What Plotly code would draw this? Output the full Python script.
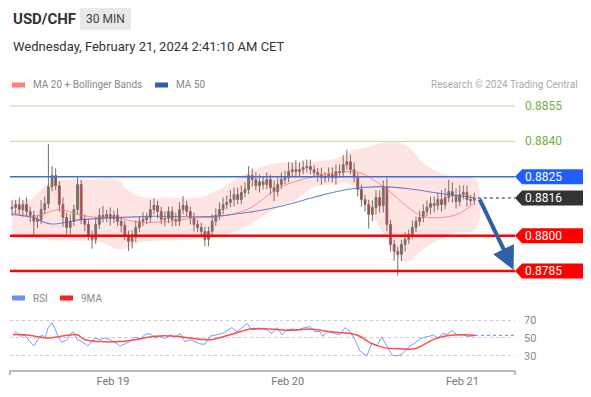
import plotly.graph_objects as go

W, H = 591, 397
OFF = 8  # page body margin offset
def px(x): return (x - OFF) / W
def py(y): return 1 - (y - OFF) / H

FONT = "Roboto, Arial, sans-serif"

# ---------------- data ----------------
pair = "USD/CHF"
timeframe = "30 MIN"
timestamp = "Wednesday, February 21, 2024 2:41:10 AM CET"
copyright_txt = "Research © 2024 Trading Central"

first_open = 0.88115
closes = [
    0.88120, 0.88132, 0.88111, 0.88132, 0.88103, 0.88086, 0.88061, 0.88069,
    0.88111, 0.88136, 0.88208, 0.88255, 0.88212, 0.88132, 0.88077, 0.88035,
    0.88061, 0.88111, 0.88217, 0.88069, 0.88048, 0.88001, 0.87985, 0.88048,
    0.88086, 0.88077, 0.88090, 0.88073, 0.88086, 0.88061, 0.88044, 0.88001,
    0.87976, 0.87993, 0.88035, 0.88061, 0.88069, 0.88077, 0.88111, 0.88128,
    0.88103, 0.88069, 0.88073, 0.88103, 0.88069, 0.88061, 0.88111, 0.88128,
    0.88103, 0.88077, 0.88048, 0.88035, 0.88018, 0.87985, 0.88018, 0.88061,
    0.88086, 0.88111, 0.88132, 0.88141, 0.88153, 0.88174, 0.88153, 0.88183,
    0.88196, 0.88255, 0.88238, 0.88212, 0.88229, 0.88217, 0.88238, 0.88204,
    0.88187, 0.88217, 0.88238, 0.88246, 0.88272, 0.88280, 0.88272, 0.88280,
    0.88288, 0.88293, 0.88280, 0.88267, 0.88259, 0.88246, 0.88250, 0.88259,
    0.88246, 0.88272, 0.88267, 0.88301, 0.88314, 0.88280, 0.88246, 0.88196,
    0.88153, 0.88132, 0.88090, 0.88120, 0.88162, 0.88128, 0.88204, 0.88048,
    0.87963, 0.87934, 0.87921, 0.87963, 0.87985, 0.88006, 0.88035, 0.88061,
    0.88077, 0.88103, 0.88120, 0.88136, 0.88128, 0.88153, 0.88132, 0.88162,
    0.88187, 0.88170, 0.88145, 0.88174, 0.88183, 0.88153, 0.88150, 0.88162,
]
# wick lengths in pips (0.0001)
wick_up = [
    3, 2, 3, 2, 3, 2, 2, 2, 4, 3, 18, 4, 3, 2, 3, 2,
    3, 2, 3, 2, 2, 2, 2, 3, 3, 4, 2, 3, 2, 3, 2, 2,
    2, 3, 3, 2, 3, 2, 4, 3, 2, 2, 3, 2, 2, 3, 3, 4,
    2, 2, 2, 2, 2, 2, 2, 3, 3, 3, 3, 3, 4, 3, 3, 3,
    3, 4, 3, 3, 3, 2, 3, 2, 3, 3, 3, 3, 4, 3, 4, 3,
    3, 3, 3, 2, 2, 3, 2, 3, 3, 3, 3, 4, 5, 3, 3, 2,
    2, 2, 2, 3, 3, 3, 3, 4, 2, 2, 2, 2, 3, 2, 3, 2,
    3, 3, 3, 3, 3, 3, 4, 4, 5, 4, 3, 4, 3, 3, 2, 2,
]
wick_dn = [
    3, 3, 2, 3, 2, 3, 6, 3, 2, 2, 2, 2, 2, 3, 4, 3,
    3, 2, 2, 2, 3, 2, 4, 2, 2, 2, 2, 3, 2, 2, 3, 2,
    4, 3, 2, 2, 2, 2, 2, 2, 3, 2, 3, 2, 3, 2, 2, 2,
    2, 3, 3, 2, 2, 3, 3, 2, 2, 2, 2, 2, 2, 3, 2, 2,
    2, 2, 3, 2, 3, 2, 2, 3, 4, 2, 2, 2, 2, 2, 2, 2,
    2, 2, 2, 2, 3, 3, 2, 2, 2, 3, 2, 2, 2, 2, 2, 3,
    3, 3, 6, 3, 3, 3, 3, 3, 3, 4, 9, 3, 3, 2, 2, 2,
    2, 2, 2, 3, 3, 2, 3, 2, 2, 3, 3, 2, 2, 3, 2, 2,
]

# Bollinger / moving averages (sampled readings: candle index, price)
bb_upper_idx = [0, 5, 9.6, 13.2, 16.8, 22.8, 28.8, 31.6, 35.2, 43.4, 51.6, 55.2, 64.6, 69,
                73.6, 82.7, 90.1, 93.7, 97.5, 101.9, 105.8, 109.3, 112.9, 117.6, 122.3, 127.5]
bb_upper = [0.88153, 0.88153, 0.88217, 0.88234, 0.88238, 0.88238, 0.88238, 0.88196, 0.88166,
            0.88162, 0.88162, 0.88183, 0.88267, 0.88293, 0.88309, 0.88314, 0.88331, 0.88364,
            0.88373, 0.88394, 0.88398, 0.88373, 0.88309, 0.88267, 0.88250, 0.88238]
bb_lower_idx = [0, 7.7, 13.2, 24.2, 29.7, 35.2, 43.4, 50.8, 57.1, 64.6, 69, 73.6, 78.3, 82.7,
                87.4, 92, 95.6, 99.2, 103, 105.8, 108.5, 112.9, 117.6, 122.3, 127.5]
bb_lower = [0.87993, 0.87985, 0.87980, 0.87972, 0.87942, 0.87972, 0.87980, 0.87985, 0.87997,
            0.88040, 0.88082, 0.88124, 0.88153, 0.88204, 0.88217, 0.88225, 0.88183, 0.88082,
            0.87985, 0.87913, 0.87887, 0.87942, 0.87985, 0.88014, 0.88027]
ma20_idx = [0, 5.8, 13.2, 17.9, 24.2, 28.8, 35.2, 42.6, 51.6, 55.2, 64.6, 73.6, 82.7, 92,
            95.6, 99.2, 103.8, 108.5, 112.9, 117.6, 122.3, 126.6]
ma20 = [0.88098, 0.88082, 0.88111, 0.88090, 0.88077, 0.88077, 0.88056, 0.88061, 0.88077,
        0.88077, 0.88111, 0.88204, 0.88250, 0.88272, 0.88267, 0.88238, 0.88187, 0.88124,
        0.88082, 0.88077, 0.88090, 0.88132]
ma50_idx = [0, 5.8, 10.4, 19.5, 28.8, 37.9, 55.2, 64.6, 73.6, 82.7, 92, 101.1, 108.5, 117.6, 126.6]
ma50 = [0.88090, 0.88077, 0.88050, 0.88069, 0.88077, 0.88082, 0.88082, 0.88098, 0.88124,
        0.88162, 0.88196, 0.88208, 0.88200, 0.88179, 0.88162]

# RSI readings
rsi_idx = [0.3, 1.1, 2.2, 3.6, 4.9, 6.0, 7.1, 8.2, 9.1, 9.9, 11.0, 11.8, 12.6, 13.7, 15.1, 15.9,
           16.8, 17.9, 19.2, 20.1, 20.9, 22.0, 22.8, 24.2, 25.5, 26.9, 28.3, 29.7, 31.0, 32.4,
           33.8, 35.2, 36.5, 37.9, 39.3, 40.7, 42.0, 43.4, 44.8, 46.2, 47.5, 48.9, 50.3, 51.6,
           53.0, 54.4, 56.3, 57.7, 59.1, 60.4, 61.8, 63.2, 64.6, 65.9, 67.3, 68.7, 70.1, 71.4,
           72.8, 74.2, 75.5, 77.2, 78.6, 79.9, 81.9, 83.2, 84.6, 85.4, 86.8, 88.7, 90.1, 91.5,
           92.9, 94.2, 95.6, 97.5, 98.9, 100.3, 101.6, 103.0, 104.4, 105.8, 107.1, 108.0, 109.3,
           110.7, 112.1, 113.5, 114.8, 115.7, 117.0, 118.4, 119.5, 120.9, 122.3, 123.6, 125.0,
           126.4, 127.2]
rsi = [53.6, 57, 52, 53, 46, 41, 48, 53.6, 50, 61, 67, 61, 52, 45, 48, 53.6, 57, 48, 46, 43,
       41, 46, 50, 48, 50, 48, 45, 41, 43, 46, 51, 49, 53.6, 55, 50, 52, 49, 53.6, 51, 55,
       46, 48, 46, 43.5, 43, 52, 53.6, 55, 58, 61.6, 57, 61, 66, 59, 60, 60, 59, 55, 61.6, 53.6,
       59, 60, 59, 61, 62.7, 57, 57, 52, 57, 55, 53.6, 61.6, 57, 48, 35.5, 30, 44.5, 41, 51, 41,
       31, 30, 32, 35.5, 41, 44.5, 49, 51, 52, 53.6, 50, 55, 54, 58, 53.6, 53.6, 52, 52, 53]
ma9_idx = [0.3, 3.6, 7.7, 10.4, 15.1, 17.9, 20.1, 24.2, 29.7, 33.8, 39.3, 44.8, 48.9, 54.4,
           59.9, 65.4, 70.9, 76.4, 81.9, 87.4, 92.9, 95.6, 98.4, 102.5, 106.6, 110.7, 113.5,
           116.2, 120.3, 124.5, 127.2]
ma9 = [53.6, 53.6, 51, 50, 53, 53.6, 48, 46, 46, 48, 52, 52, 50, 48, 53.6, 60, 60, 58.5, 60,
       57, 55, 52, 44.5, 39, 38, 38, 43.5, 49, 53, 53.6, 53]

# levels
resist_levels = [0.8855, 0.8840]
pivot_level = 0.8825
last_price = 0.8816
support_levels = [0.8800, 0.8785]
target_price = 0.87855

day_labels = ["Feb 19", "Feb 20", "Feb 21"]
day_start_idx = [27.75, 75.75, 123.75]
rsi_ticks = [30, 50, 70]

# ---------------- derived ----------------
n = len(closes)
idx = list(range(n))
opens = [first_open] + closes[:-1]
highs = [max(o, c) + u * 1e-4 for o, c, u in zip(opens, closes, wick_up)]
lows = [min(o, c) - d * 1e-4 for o, c, d in zip(opens, closes, wick_dn)]

X_RANGE = [-0.55, 138.2]
Y_RANGE = [0.877909, 0.885965]
RSI_RANGE = [14.4, 86.7]

fig = go.Figure()

# Bollinger band area
fig.add_trace(go.Scatter(
    x=bb_upper_idx + bb_lower_idx[::-1], y=bb_upper + bb_lower[::-1],
    fill="toself", fillcolor="rgba(255,90,90,0.16)", line=dict(width=0, shape="spline"),
    mode="lines", hoverinfo="skip", showlegend=False))
fig.add_trace(go.Scatter(x=ma20_idx, y=ma20, mode="lines",
                         line=dict(color="rgba(255,110,110,0.75)", width=1, shape="spline"),
                         showlegend=False))
fig.add_trace(go.Scatter(x=ma50_idx, y=ma50, mode="lines",
                         line=dict(color="rgba(70,110,190,0.8)", width=1.1, shape="spline"),
                         showlegend=False))

fig.add_trace(go.Candlestick(
    x=idx, open=opens, high=highs, low=lows, close=closes,
    increasing=dict(line=dict(color="#6e6e6e", width=1), fillcolor="#3c8f3c"),
    decreasing=dict(line=dict(color="#6e6e6e", width=1), fillcolor="#e02424"),
    whiskerwidth=0, showlegend=False))

# dotted last-price line
fig.add_trace(go.Scatter(x=[idx[-1] + 1, X_RANGE[1]], y=[last_price, last_price], mode="lines",
                         line=dict(color="#55709f", width=1.5, dash="dot"), showlegend=False))

# RSI panel
fig.add_trace(go.Scatter(x=rsi_idx, y=rsi, yaxis="y2", mode="lines",
                         line=dict(color="rgba(100,140,235,0.85)", width=1), showlegend=False))
fig.add_trace(go.Scatter(x=ma9_idx, y=ma9, yaxis="y2", mode="lines",
                         line=dict(color="rgba(255,60,60,0.9)", width=1.5, shape="spline"),
                         showlegend=False))
fig.add_trace(go.Scatter(x=[rsi_idx[-1], X_RANGE[1]], y=[rsi[-1], rsi[-1]], yaxis="y2", mode="lines",
                         line=dict(color="rgba(100,140,235,0.85)", width=1.2, dash="dot"),
                         showlegend=False))

shapes = []
annotations = []

# horizontal level lines
for lv in resist_levels:
    shapes.append(dict(type="line", xref="x domain", yref="y", x0=0, x1=1, y0=lv, y1=lv,
                       line=dict(color="#b9df9a", width=1)))
shapes.append(dict(type="line", xref="x domain", yref="y", x0=0, x1=1, y0=pivot_level, y1=pivot_level,
                   line=dict(color="#3d6fe0", width=1.5)))
for lv in support_levels:
    shapes.append(dict(type="line", xref="x domain", yref="y", x0=0, x1=1, y0=lv, y1=lv,
                       line=dict(color="#ff0000", width=2.5)))

# tags
tag_path = "M0,0 L7,7.5 L70,7.5 L70,-7.5 L7,-7.5 Z"
def tag(level, color):
    shapes.append(dict(type="path", path=tag_path, xref="paper", yref="y",
                       xsizemode="pixel", ysizemode="pixel", xanchor=px(515), yanchor=level,
                       fillcolor=color, line=dict(width=0), layer="above"))
    annotations.append(dict(x=px(523), y=level, xref="paper", yref="y", xanchor="left",
                            yanchor="middle", text=f"{level:.4f}", showarrow=False,
                            font=dict(family=FONT, size=12, color="white")))
for lv in resist_levels:
    annotations.append(dict(x=px(523), y=lv, xref="paper", yref="y", xanchor="left",
                            yanchor="middle", text=f"{lv:.4f}", showarrow=False,
                            font=dict(family=FONT, size=12, color="#6cb33f")))
tag(pivot_level, "#1f5fff")
tag(last_price, "#333333")
for lv in support_levels:
    tag(lv, "#ff0000")

# arrow
annotations.append(dict(x=137.8, y=target_price, xref="x", yref="y", ax=idx[-1] + 1.3, ay=last_price,
                        axref="x", ayref="y", showarrow=True, arrowhead=2, arrowsize=1.15,
                        arrowwidth=4, arrowcolor="#2f5fa7", text=""))

# x-axis end ticks
for xx in (10, 515):
    shapes.append(dict(type="line", xref="paper", yref="paper", x0=px(xx), x1=px(xx),
                       y0=py(370), y1=py(375), line=dict(color="#bbbbbb", width=2)))
# right border
shapes.append(dict(type="line", xref="paper", yref="paper", x0=px(588), x1=px(588),
                   y0=0, y1=1, line=dict(color="#e4e4e4", width=1)))

# header
annotations.append(dict(x=px(11), y=py(19), xref="paper", yref="paper", xanchor="left", yanchor="middle",
                        text=f"<b>{pair}</b>", showarrow=False,
                        font=dict(family=FONT, size=15, color="#333")))
shapes.append(dict(type="rect", xref="paper", yref="paper", x0=px(80), x1=px(131), y0=py(30), y1=py(8),
                   fillcolor="#e9e9e9", line=dict(width=0)))
annotations.append(dict(x=px(105.5), y=py(19), xref="paper", yref="paper", xanchor="center", yanchor="middle",
                        text=timeframe, showarrow=False, font=dict(family=FONT, size=12, color="#444")))
annotations.append(dict(x=px(11), y=py(47), xref="paper", yref="paper", xanchor="left", yanchor="middle",
                        text=timestamp, showarrow=False, font=dict(family=FONT, size=13, color="#333")))

# legends
def legend_item(x, y, color, label):
    shapes.append(dict(type="rect", xref="paper", yref="paper", x0=px(x), x1=px(x + 13),
                       y0=py(y + 2.5), y1=py(y - 2.5), fillcolor=color, line=dict(width=0)))
    annotations.append(dict(x=px(x + 19), y=py(y), xref="paper", yref="paper", xanchor="left",
                            yanchor="middle", text=label, showarrow=False,
                            font=dict(family=FONT, size=10, color="#888")))
legend_item(12, 85, "#ff7f7f", "MA 20 + Bollinger Bands")
legend_item(155, 85, "#2f5fa7", "MA 50")
legend_item(12, 298, "#6d8fe8", "RSI")
legend_item(60, 298, "#ff2020", "9MA")
annotations.append(dict(x=px(580), y=py(85), xref="paper", yref="paper", xanchor="right", yanchor="middle",
                        text=copyright_txt, showarrow=False, font=dict(family=FONT, size=10, color="#aaa")))

fig.update_layout(
    width=W, height=H, margin=dict(l=0, r=0, t=0, b=0),
    paper_bgcolor="white", plot_bgcolor="white",
    showlegend=False, shapes=shapes, annotations=annotations,
    font=dict(family=FONT),
    xaxis=dict(domain=[px(10), px(515)], range=X_RANGE, anchor="y2",
               showgrid=False, zeroline=False, rangeslider=dict(visible=False),
               showline=True, linecolor="#bbbbbb", linewidth=2,
               tickmode="array", tickvals=day_start_idx, ticktext=day_labels,
               ticks="", tickfont=dict(family=FONT, size=11, color="#777")),
    yaxis=dict(domain=[py(285), py(95)], range=Y_RANGE, showgrid=False, zeroline=False,
               showticklabels=False, showline=False),
    yaxis2=dict(domain=[py(370), py(305)], range=RSI_RANGE, side="right", anchor="x",
                showgrid=True, gridcolor="#cccccc", griddash="dot", gridwidth=1,
                zeroline=False, tickmode="array", tickvals=rsi_ticks,
                ticklabelstandoff=8, ticks="",
                tickfont=dict(family=FONT, size=11, color="#888")),
)

fig.write_html("out.html")
